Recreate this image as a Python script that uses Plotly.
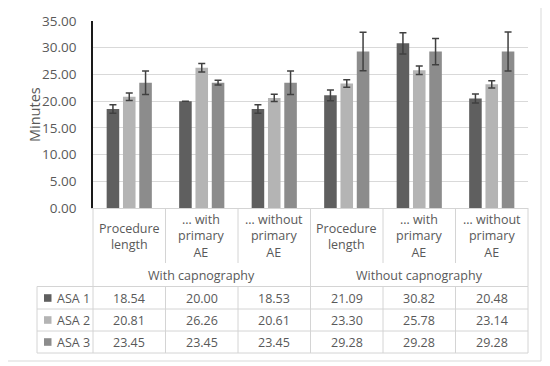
import plotly.graph_objects as go

# ---- data ----
categories = ["Procedure<br>length", "… with<br>primary<br>AE", "… without<br>primary<br>AE",
              "Procedure<br>length", "… with<br>primary<br>AE", "… without<br>primary<br>AE"]
groups = ["With capnography", "Without capnography"]
series_names = ["ASA 1", "ASA 2", "ASA 3"]
asa1 = [18.54, 20.00, 18.53, 21.09, 30.82, 20.48]
asa2 = [20.81, 26.26, 20.61, 23.30, 25.78, 23.14]
asa3 = [23.45, 23.45, 23.45, 29.28, 29.28, 29.28]
err1 = [0.8, 0.0, 0.8, 1.0, 2.0, 0.85]
err2 = [0.7, 0.8, 0.7, 0.7, 0.8, 0.7]
err3 = [2.2, 0.45, 2.2, 3.6, 2.45, 3.65]
y_ticks = [0, 5, 10, 15, 20, 25, 30, 35]

colors = ["#5f5f5f", "#b4b4b4", "#8c8c8c"]
values = [asa1, asa2, asa3]
errors = [err1, err2, err3]

OFF = 8  # page body margin
W, H = 550 - OFF, 366 - OFF
L, R, T, B = 93 - OFF, 22, 21 - OFF, 158
PW, PH = W - L - R, H - T - B
TXT = "#595959"
LINE = "#d4d4d4"
FONT = "Open Sans"


def px(x):  # x in window pixels
    return (x - OFF - L) / PW


def py(y):  # y in window pixels
    return (H - B - (y - OFF)) / PH


xs = list(range(len(categories)))
fig = go.Figure()
for name, vals, errs, col in zip(series_names, values, errors, colors):
    fig.add_trace(go.Bar(
        x=xs, y=vals, name=name, marker=dict(color=col, line=dict(width=0)),
        error_y=dict(type="data", array=errs, visible=True, color="#404040",
                     thickness=1.5, width=3.5),
    ))

shapes = []
annotations = []


def hline(x0, x1, y, color=LINE, w=1):
    shapes.append(dict(type="line", xref="paper", yref="paper", x0=px(x0), x1=px(x1),
                       y0=py(y), y1=py(y), line=dict(color=color, width=w)))


def vline(x, y0, y1, color=LINE, w=1):
    shapes.append(dict(type="line", xref="paper", yref="paper", x0=px(x), x1=px(x),
                       y0=py(y0), y1=py(y1), line=dict(color=color, width=w)))


# outer border
shapes.append(dict(type="rect", xref="paper", yref="paper", x0=px(3), x1=px(541),
                   y0=py(3), y1=py(361), line=dict(color="#d9d9d9", width=1)))

x_left, x_right = 93, 528
bounds = [x_left + i * (x_right - x_left) / 6 for i in range(7)]
base = 208
# category separators
for i, b in enumerate(bounds):
    if i in (0, 3, 6):
        vline(b, base, 286.5)
    else:
        vline(b, base, 263)
# table
tl = 37
hline(tl, bounds[-1], 286.5)
for yy in (309, 331, 353):
    hline(tl, bounds[-1], yy)
vline(tl, 286.5, 353)
for b in bounds:
    vline(b, 286.5, 353)

# category labels
for i, c in enumerate(categories):
    annotations.append(dict(x=i, xref="x", y=py(236), yref="paper", text=c, showarrow=False,
                            font=dict(family=FONT, size=12.5, color=TXT), align="center",
                            yanchor="middle", xanchor="center"))
# group labels
for g, (a, b) in zip(groups, [(bounds[0], bounds[3]), (bounds[3], bounds[6])]):
    annotations.append(dict(x=px((a + b) / 2), xref="paper", y=py(275), yref="paper", text=g,
                            showarrow=False, font=dict(family=FONT, size=12.5, color=TXT),
                            xanchor="center", yanchor="middle"))
# table rows
row_y = [298, 320, 342]
for name, vals, col, ry in zip(series_names, values, colors, row_y):
    shapes.append(dict(type="rect", xref="paper", yref="paper", x0=px(44), x1=px(51.5),
                       y0=py(ry - 3.8), y1=py(ry + 3.8), fillcolor=col, line=dict(width=0)))
    annotations.append(dict(x=px(55), xref="paper", y=py(ry), yref="paper", text=name,
                            showarrow=False, xanchor="left", yanchor="middle",
                            font=dict(family=FONT, size=12.5, color=TXT)))
    for i, v in enumerate(vals):
        annotations.append(dict(x=i, xref="x", y=py(ry), yref="paper", text=f"{v:.2f}",
                                showarrow=False, xanchor="center", yanchor="middle",
                                font=dict(family=FONT, size=12.5, color=TXT)))

# y-axis title
annotations.append(dict(x=px(34), xref="paper", y=py(114), yref="paper", text="Minutes",
                        textangle=-90, showarrow=False, xanchor="center", yanchor="middle",
                        font=dict(family=FONT, size=14.5, color=TXT)))

fig.update_layout(
    width=W, height=H,
    margin=dict(l=L, r=R, t=T, b=B, pad=0, autoexpand=False),
    paper_bgcolor="white", plot_bgcolor="white",
    barmode="group", bargap=0.325, bargroupgap=0.23,
    showlegend=False,
    shapes=shapes, annotations=annotations,
    xaxis=dict(range=[-0.5, 5.5], showticklabels=False, showgrid=False, zeroline=False,
               showline=True, linecolor=LINE, linewidth=1, fixedrange=True),
    yaxis=dict(range=[0, 35], tickvals=y_ticks, tickformat=".2f", showgrid=True,
               gridcolor="#d9d9d9", gridwidth=1, zeroline=False, showline=True,
               linecolor="#1a1a1a", linewidth=1.5, ticks="", ticklabelstandoff=12,
               tickfont=dict(family=FONT, size=13.5, color=TXT)),
)

fig.write_html("out.html")
